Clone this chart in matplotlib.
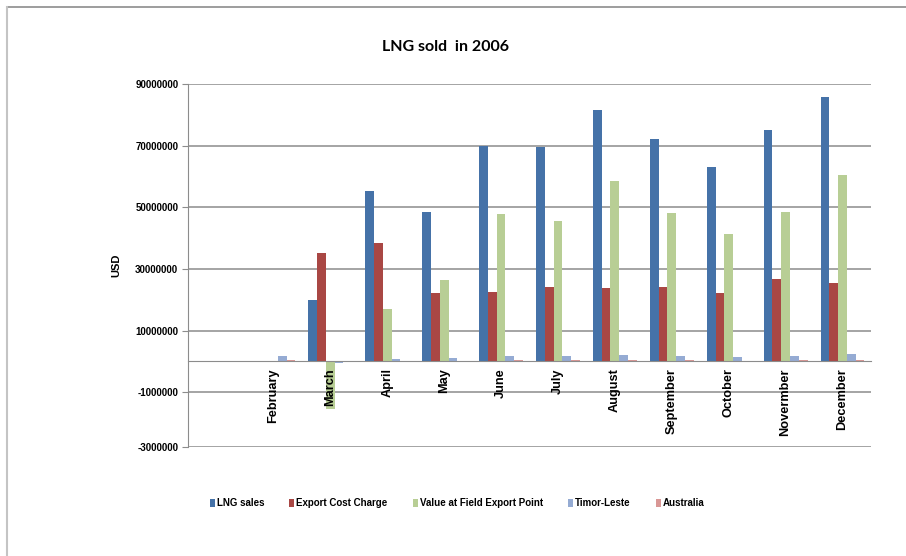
import numpy as np
import matplotlib
matplotlib.use('Agg')
import matplotlib.pyplot as plt
from matplotlib.lines import Line2D

months = ['', 'February', 'March', 'April', 'May', 'June', 'July', 'August',
          'September', 'October', 'Novermber', 'December']

lng_sales = [0, 0, 19.9e6, 55.2e6, 48.4e6, 70.0e6, 69.7e6, 81.7e6, 72.0e6, 63.2e6, 75.2e6, 85.9e6]
export_cost = [0, 0, 35.1e6, 38.4e6, 22.3e6, 22.4e6, 24.0e6, 23.7e6, 24.0e6, 22.1e6, 26.6e6, 25.3e6]
field_value = [0, 0, -15.5e6, 17.0e6, 26.3e6, 47.7e6, 45.7e6, 58.4e6, 48.0e6, 41.2e6, 48.6e6, 60.6e6]
timor_leste = [0, 1.7e6, -0.4e6, 0.8e6, 1.0e6, 1.6e6, 1.6e6, 1.9e6, 1.6e6, 1.3e6, 1.6e6, 2.3e6]
australia = [0, 0.4e6, 0, 0.1e6, 0.1e6, 0.3e6, 0.3e6, 0.3e6, 0.3e6, 0.1e6, 0.3e6, 0.3e6]

series_names = ['LNG sales', 'Export Cost Charge', 'Value at Field Export Point',
                'Timor-Leste', 'Australia']
colors = ['#4572A8', '#A94744', '#B8CE95', '#95ABD3', '#D99795']

ytick_vals = [90e6, 70e6, 50e6, 30e6, 10e6, -10e6, -27.8e6]
ytick_labels = ['90000000', '70000000', '50000000', '30000000', '10000000',
                '-1000000', '-3000000']

fig = plt.figure(figsize=(9.06, 5.56), dpi=100)
# outer chart frame (only top and left edges are visible)
fig.lines.append(Line2D([7 / 906, 1.0], [1 - 7 / 556, 1 - 7 / 556], transform=fig.transFigure,
                        color='#8c8c8c', linewidth=1.2))
fig.lines.append(Line2D([7 / 906, 7 / 906], [0, 1 - 7 / 556], transform=fig.transFigure,
                        color='#c4c4c4', linewidth=1.5))

ax = fig.add_axes([188 / 906, 1 - 447 / 556, 683 / 906, 363 / 556])

x = np.arange(len(months))
w = 1 / 6.5
data = [lng_sales, export_cost, field_value, timor_leste, australia]
for i, (vals, name, c) in enumerate(zip(data, series_names, colors)):
    ax.bar(x + (i - 2) * w, vals, width=w, color=c, label=name, zorder=1)

ax.set_xlim(-0.5, len(months) - 0.5)
ax.set_ylim(-27.8e6, 90e6)

for v in ytick_vals:
    ax.axhline(v, color='#8c8c8c', linewidth=1.1, zorder=0)

ax.set_yticks(ytick_vals)
ax.set_yticklabels(ytick_labels, fontfamily='Liberation Sans', fontweight='bold', fontsize=7)
ax.tick_params(axis='y', length=4, color='#8c8c8c', pad=3)

ax.spines['bottom'].set_position(('data', 0))
for s in ['top', 'right']:
    ax.spines[s].set_visible(False)
ax.spines['bottom'].set_color('#8c8c8c')
ax.spines['left'].set_color('#8c8c8c')
ax.set_xticks(x)
ax.set_xticklabels(months, rotation=90, fontfamily='Liberation Sans',
                   fontweight='bold', fontsize=9.2)
ax.tick_params(axis='x', length=0, pad=5)

ax.set_ylabel('USD', fontfamily='Liberation Sans', fontweight='bold', fontsize=8, labelpad=10)

fig.text(446 / 906, 1 - 47 / 556, 'LNG sold  in 2006', ha='center', va='center',
         fontfamily='Lato', fontweight='bold', fontsize=11.5)

leg = fig.legend(loc='center', bbox_to_anchor=(457 / 906, 1 - 503 / 556), ncol=5,
                 frameon=False, handlelength=0.5, handleheight=0.9, handletextpad=0.2,
                 columnspacing=2.6,
                 prop={'family': 'Liberation Sans', 'weight': 'bold', 'size': 7})

plt.savefig('out.png', dpi=100)
